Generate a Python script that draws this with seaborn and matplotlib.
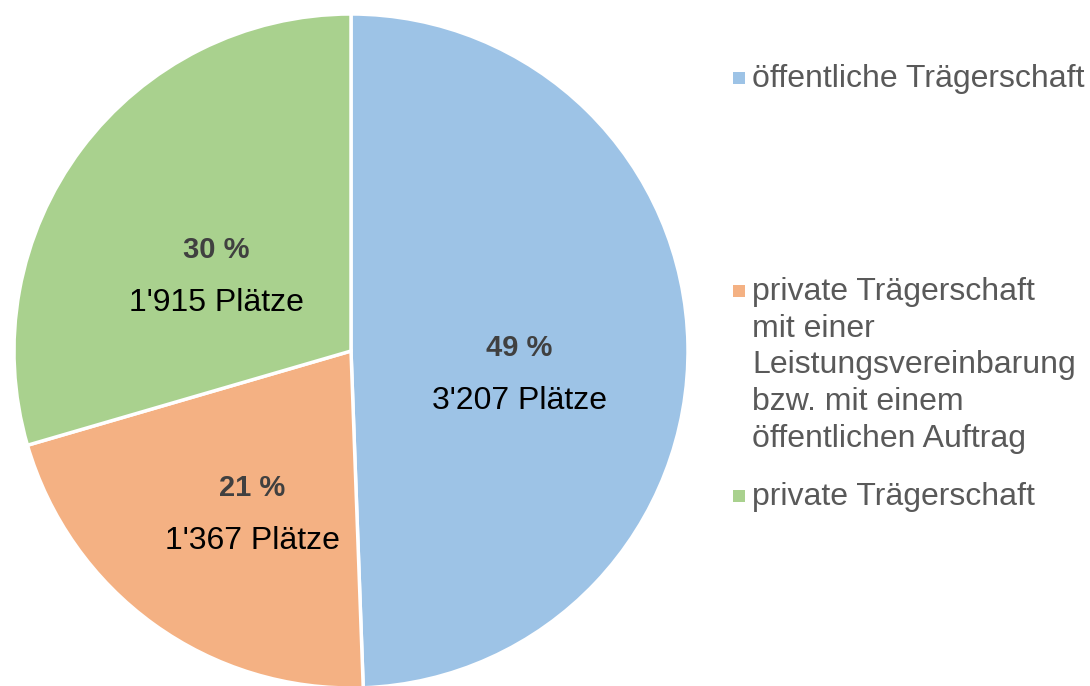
import matplotlib
matplotlib.use("Agg")
import matplotlib.pyplot as plt
import seaborn as sns
import numpy as np
from matplotlib.patches import Rectangle

# Daten
kategorien = [
    "öffentliche Trägerschaft",
    "private Trägerschaft\nmit einer\nLeistungsvereinbarung\nbzw. mit einem\nöffentlichen Auftrag",
    "private Trägerschaft",
]
plaetze = [3207, 1367, 1915]
farben = ["#9DC3E6", "#F4B183", "#A9D18E"]

sns.set_theme(style="white")
plt.rcParams["font.family"] = ["Liberation Sans", "DejaVu Sans"]

W, H = 1090, 686
fig = plt.figure(figsize=(W / 100, H / 100), dpi=100)
fig.patch.set_facecolor("white")

# Kreis: Mitte (351, 351), Radius 337 Pixel
cx, cy, r = 351, 351, 337
ax = fig.add_axes([(cx - r) / W, (H - cy - r) / H, 2 * r / W, 2 * r / H])

wedges, _ = ax.pie(
    plaetze,
    colors=farben,
    startangle=90,
    counterclock=False,
    radius=1,
    wedgeprops=dict(edgecolor="white", linewidth=2.5),
)
ax.set_xlim(-1, 1)
ax.set_ylim(-1, 1)
ax.set_aspect("equal")
ax.axis("off")

total = sum(plaetze)
for w, v in zip(wedges, plaetze):
    ang = np.deg2rad((w.theta1 + w.theta2) / 2)
    x, y = 0.5 * np.cos(ang), 0.5 * np.sin(ang)
    ax.text(x, y, f"{round(v / total * 100)} %", ha="center", va="center",
            fontsize=21, fontweight="bold", color="#404040")
    ax.text(x, y - 0.157, f"{v:,}".replace(",", "'") + " Plätze",
            ha="center", va="center", fontsize=23, color="black")

# Legende (Grundlinie der ersten Zeile, Zeilenabstand 36.7 px)
baselines = [87, 300, 505]
zeilen = 36.7
for lab, col, b in zip(kategorien, farben, baselines):
    n = lab.count("\n")
    fig.add_artist(Rectangle((733 / W, (H - b + 3) / H), 12 / W, 12 / H,
                             transform=fig.transFigure, facecolor=col,
                             edgecolor="none"))
    fig.text(752 / W, (H - b - n * zeilen) / H, lab, ha="left", va="baseline",
             fontsize=23, color="#595959", linespacing=1.29)

fig.savefig("out.png", dpi=100)
